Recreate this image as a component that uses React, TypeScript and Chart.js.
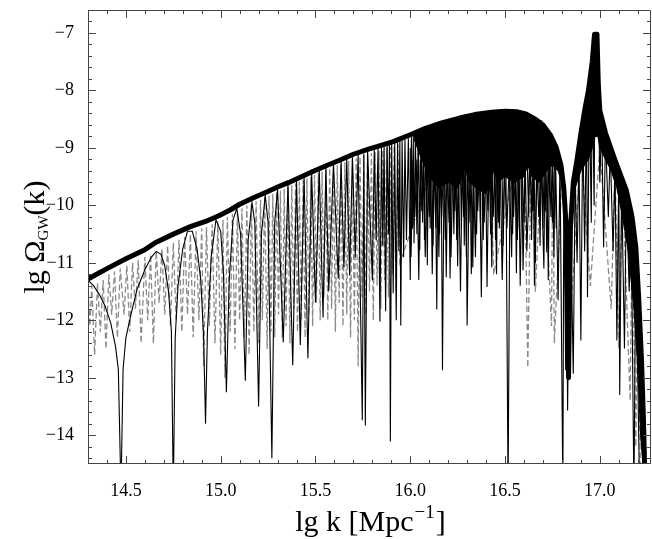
import React, { useEffect, useRef } from "react";
import { Chart, registerables } from "chart.js";
Chart.register(...registerables);

const xMin = 14.3, xMax = 17.27, yMin = -14.5, yMax = -6.6;
const xTickValues = [14.5, 15.0, 15.5, 16.0, 16.5, 17.0];
const yTickValues = [-14, -13, -12, -11, -10, -9, -8, -7];

// thick upper envelope
const envX = [14.30, 14.40, 14.50, 14.60, 14.66, 14.75, 14.84, 14.92, 14.99, 15.05, 15.10, 15.17, 15.24, 15.30, 15.36, 15.42, 15.48, 15.55, 15.63, 15.70, 15.78, 15.85, 15.91, 16.00, 16.08, 16.17, 16.26, 16.34, 16.43, 16.50, 16.56, 16.61, 16.66, 16.70, 16.74, 16.77, 16.795, 16.81, 16.825, 16.835, 16.845, 16.86, 16.88, 16.90, 16.92, 16.94, 16.96, 16.972, 16.985, 16.992, 17.00, 17.03, 17.08, 17.14, 17.17, 17.19, 17.205, 17.22, 17.23, 17.24];
const envY = [-11.28, -11.10, -10.93, -10.77, -10.64, -10.50, -10.37, -10.28, -10.18, -10.08, -9.98, -9.87, -9.77, -9.68, -9.60, -9.51, -9.42, -9.32, -9.21, -9.11, -9.02, -8.95, -8.89, -8.77, -8.66, -8.56, -8.48, -8.42, -8.38, -8.36, -8.37, -8.41, -8.50, -8.60, -8.78, -8.99, -9.30, -9.70, -10.5, -13.0, -10.4, -9.6, -9.2, -8.75, -8.35, -8.00, -7.5, -7.02, -7.02, -7.9, -8.35, -8.74, -9.21, -9.74, -10.20, -10.73, -11.6, -12.7, -13.7, -15.0];

// thin black oscillating spectrum
const thinX = [14.30, 14.33, 14.36, 14.39, 14.42, 14.445, 14.46, 14.474, 14.485, 14.50, 14.53, 14.56, 14.60, 14.635, 14.66, 14.685, 14.705, 14.725, 14.74, 14.75, 14.76, 14.775, 14.80, 14.825, 14.85, 14.875, 14.895, 14.91, 14.92, 14.93, 14.95, 14.975, 15.00, 15.015, 15.03, 15.045, 15.065, 15.085, 15.105, 15.13, 15.145, 15.165, 15.18, 15.20, 15.215, 15.235, 15.25, 15.27, 15.285, 15.30, 15.33, 15.355, 15.38, 15.40, 15.42, 15.44, 15.46, 15.48, 15.50, 15.52, 15.54, 15.555, 15.57, 15.595, 15.62, 15.635, 15.65, 15.665, 15.68, 15.695, 15.71, 15.725, 15.747, 15.755, 15.763, 15.775, 15.80, 15.81, 15.82, 15.83, 15.84, 15.848, 15.855, 15.862, 15.87, 15.878, 15.885, 15.89, 15.895, 15.902, 15.91, 15.918, 15.926, 15.933, 15.94, 15.945, 15.95, 15.957, 15.965, 15.972, 15.98, 15.99, 16.00, 16.006, 16.012, 16.016, 16.02, 16.027, 16.035, 16.042, 16.05, 16.057, 16.065, 16.07, 16.075, 16.083, 16.09, 16.097, 16.105, 16.112, 16.12, 16.13, 16.14, 16.147, 16.155, 16.162, 16.17, 16.18, 16.19, 16.20, 16.21, 16.22, 16.23, 16.24, 16.25, 16.26, 16.27, 16.278, 16.285, 16.292, 16.30, 16.315, 16.33, 16.34, 16.35, 16.36, 16.37, 16.378, 16.385, 16.395, 16.405, 16.418, 16.43, 16.44, 16.45, 16.46, 16.47, 16.48, 16.49, 16.503, 16.516, 16.528, 16.54, 16.55, 16.56, 16.568, 16.575, 16.585, 16.595, 16.61, 16.625, 16.632, 16.64, 16.65, 16.66, 16.672, 16.685, 16.692, 16.70, 16.71, 16.72, 16.735, 16.75, 16.765, 16.78, 16.79, 16.805, 16.81, 16.82, 16.825, 16.83, 16.84, 16.845, 16.86, 16.87, 16.88, 16.89, 16.90, 16.91, 16.92, 16.93, 16.935, 16.945, 16.955, 16.96, 16.97, 16.975, 16.985, 16.99, 17.00, 17.01, 17.02, 17.03, 17.045, 17.055, 17.07, 17.08, 17.09, 17.10, 17.105, 17.115, 17.13, 17.14, 17.155, 17.165, 17.18, 17.19, 17.21];
const thinY = [-11.30, -11.40, -11.55, -11.75, -12.05, -12.45, -12.85, -15.0, -12.85, -12.3, -11.85, -11.45, -11.12, -10.90, -10.80, -10.85, -11.05, -11.5, -12.2, -15.0, -12.3, -11.4, -10.75, -10.45, -10.45, -10.75, -11.3, -12.3, -13.8, -12.2, -10.9, -10.25, -10.45, -11.2, -13.25, -11.3, -10.25, -10.05, -10.5, -13.05, -10.6, -9.95, -10.3, -13.5, -10.5, -9.82, -10.3, -14.4, -10.3, -9.72, -12.38, -9.62, -12.78, -9.55, -12.43, -9.49, -12.66, -9.44, -11.69, -9.38, -11.95, -9.32, -11.49, -9.27, -11.27, -9.22, -11.08, -9.19, -11.22, -9.15, -10.9, -9.12, -13.74, -9.10, -13.83, -9.06, -11.30, -9.03, -10.6, -9.0, -12.02, -8.98, -10.7, -8.96, -11.84, -8.95, -10.5, -8.94, -14.11, -8.92, -11.53, -8.91, -12.0, -8.9, -10.8, -8.88, -12.09, -8.87, -10.9, -8.85, -10.6, -8.83, -11.30, -8.8, -10.4, -8.79, -10.66, -8.78, -10.5, -8.76, -10.78, -8.74, -10.3, -8.72, -10.6, -8.7, -11.04, -8.68, -10.4, -8.66, -10.7, -8.64, -11.81, -8.62, -10.5, -8.6, -12.87, -8.58, -11.25, -8.57, -11.27, -8.55, -10.5, -8.53, -11.06, -8.51, -10.4, -8.5, -10.7, -8.49, -12.09, -8.47, -11.08, -8.46, -10.5, -8.44, -10.3, -8.43, -10.6, -8.42, -11.42, -8.41, -11.08, -8.4, -10.6, -8.39, -10.4, -8.39, -10.7, -8.38, -15.0, -8.38, -10.5, -8.38, -11.18, -8.38, -10.4, -8.39, -11.13, -8.41, -10.2, -8.43, -10.6, -8.46, -11.0, -8.49, -10.70, -8.52, -10.4, -8.58, -10.82, -8.7, -10.3, -8.9, -11.65, -9.2, -15.0, -9.8, -12.87, -10.6, -13.57, -10.5, -10.2, -12.93, -9.4, -11.0, -9.1, -12.35, -8.6, -10.8, -8.3, -11.6, -8.0, -10.3, -7.6, -10.0, -7.1, -8.6, -7.5, -9.6, -8.5, -10.73, -8.8, -10.2, -9.0, -10.8, -9.3, -12.35, -9.45, -13.3, -9.6, -12.49, -9.8, -11.5, -10.1, -15.0, -10.8, -15.0];

// extra fine spikes hanging below the dense mass
const spikeX = [16.0, 16.004, 16.014, 16.024, 16.035, 16.045, 16.053, 16.061, 16.07, 16.079, 16.09, 16.10, 16.108, 16.116, 16.125, 16.135, 16.143, 16.151, 16.158, 16.166, 16.175, 16.185, 16.195, 16.205, 16.21, 16.215, 16.225, 16.235, 16.24, 16.245, 16.255, 16.265, 16.274, 16.282, 16.289, 16.296, 16.303, 16.31, 16.316, 16.322, 16.333, 16.344, 16.35, 16.356, 16.366, 16.375, 16.383, 16.39, 16.40, 16.41, 16.417, 16.424, 16.431, 16.438, 16.447, 16.455, 16.46, 16.465, 16.475, 16.485, 16.497, 16.51, 16.522, 16.535, 16.54, 16.545, 16.555, 16.565, 16.572, 16.58, 16.59, 16.60, 16.607, 16.615, 16.63, 16.645, 16.65, 16.655, 16.667, 16.678, 16.69, 16.705, 16.71, 16.715, 16.722, 16.728, 16.735, 16.742, 16.75, 16.758, 16.764, 16.77];
const spikeY = [-9.0, -10.9, -9.2, -10.2, -9.2, -11.3, -9.2, -10.1, -9.2, -10.9, -9.3, -10.2, -9.3, -11.2, -9.3, -10.4, -9.3, -10.9, -9.3, -10.2, -9.3, -10.6, -9.3, -10.3, -9.3, -10.9, -9.3, -10.1, -9.3, -10.6, -9.3, -11.5, -9.3, -10.2, -9.3, -10.9, -9.3, -10.3, -9.3, -11.2, -9.3, -10.9, -9.3, -10.1, -9.3, -11.6, -9.3, -10.3, -9.3, -10.1, -9.3, -10.5, -9.3, -10.2, -9.3, -11.2, -9.3, -10.3, -9.3, -11.3, -9.3, -10.4, -9.3, -10.9, -9.3, -10.2, -9.3, -10.6, -9.3, -11.4, -9.3, -10.3, -9.3, -10.8, -9.3, -10.1, -9.3, -11.4, -9.3, -10.2, -9.3, -11.1, -9.3, -10.1, -9.3, -11.3, -9.2, -10.2, -9.2, -10.9, -9.2, -10.4];

// grey dashed spectrum
const grayX = [14.30, 14.31, 14.32, 14.335, 14.35, 14.365, 14.38, 14.395, 14.41, 14.425, 14.44, 14.455, 14.47, 14.49, 14.505, 14.52, 14.535, 14.55, 14.565, 14.58, 14.60, 14.615, 14.63, 14.645, 14.66, 14.675, 14.69, 14.705, 14.72, 14.735, 14.75, 14.765, 14.78, 14.795, 14.81, 14.825, 14.84, 14.855, 14.87, 14.885, 14.90, 14.91, 14.925, 14.94, 14.955, 14.97, 14.985, 15.0, 15.012, 15.022, 15.035, 15.05, 15.062, 15.075, 15.088, 15.1, 15.112, 15.125, 15.138, 15.15, 15.162, 15.175, 15.187, 15.2, 15.21, 15.22, 15.232, 15.245, 15.255, 15.265, 15.275, 15.285, 15.295, 15.305, 15.315, 15.325, 15.335, 15.345, 15.355, 15.365, 15.375, 15.385, 15.395, 15.405, 15.415, 15.425, 15.435, 15.445, 15.455, 15.465, 15.475, 15.485, 15.495, 15.505, 15.515, 15.525, 15.535, 15.545, 15.555, 15.565, 15.575, 15.585, 15.595, 15.605, 15.615, 15.625, 15.635, 15.645, 15.655, 15.665, 15.675, 15.685, 15.695, 15.705, 15.715, 15.725, 15.735, 15.745, 15.755, 15.765, 15.775, 15.785, 15.795, 15.805, 15.815, 15.825, 15.835, 15.845, 15.855, 15.865, 15.875, 15.885, 15.895, 15.905, 15.915, 15.925, 15.935, 15.945, 16.2, 16.42, 16.44, 16.6, 16.62, 16.64, 16.66, 16.7, 16.745, 16.752, 16.76, 16.8, 16.85, 16.9, 16.95, 17.0, 17.06, 17.08, 17.1, 17.12, 17.16, 17.17, 17.19, 17.2, 17.215];
const grayY = [-11.5, -12.1, -11.4, -12.6, -11.35, -12.2, -11.3, -12.5, -11.2, -11.9, -11.15, -12.3, -11.1, -11.9, -11.05, -12.2, -11.0, -11.8, -10.95, -12.4, -10.9, -12.0, -10.85, -12.4, -10.8, -11.7, -10.75, -11.9, -10.7, -12.1, -10.65, -12.0, -10.6, -12.2, -10.55, -11.9, -10.5, -12.3, -10.45, -12.0, -10.4, -12.8, -10.38, -12.1, -10.33, -12.4, -10.28, -12.6, -10.25, -13.0, -10.2, -12.2, -10.15, -12.5, -10.1, -12.0, -10.05, -12.3, -10.0, -12.6, -9.97, -12.2, -9.93, -12.4, -9.9, -12.0, -9.86, -12.5, -9.83, -12.2, -9.8, -12.3, -9.77, -11.9, -9.74, -12.3, -9.71, -12.1, -9.68, -12.4, -9.65, -11.8, -9.62, -12.2, -9.59, -12.0, -9.56, -12.3, -9.53, -11.9, -9.5, -12.1, -9.47, -11.7, -9.44, -12.0, -9.41, -11.6, -9.38, -12.0, -9.35, -11.8, -9.33, -12.2, -9.3, -11.7, -9.28, -12.1, -9.25, -11.9, -9.23, -12.3, -9.2, -12.0, -9.18, -12.8, -9.15, -11.6, -9.13, -11.9, -9.11, -11.5, -9.09, -12.0, -9.07, -11.4, -9.05, -11.8, -9.03, -11.3, -9.0, -11.6, -8.98, -11.2, -8.96, -11.5, -8.94, -11.0, -8.6, -8.5, -11.2, -8.5, -12.82, -8.5, -11.5, -8.7, -12.1, -8.9, -12.4, -9.5, -11.7, -9.0, -11.4, -9.0, -11.8, -9.3, -12.5, -9.6, -13.4, -10.5, -14.2, -11.5, -14.8];

// dense black mass, first hump
const band1X = [16.02, 16.06, 16.10, 16.15, 16.20, 16.25, 16.29, 16.31, 16.35, 16.40, 16.44, 16.46, 16.50, 16.55, 16.60, 16.62, 16.64, 16.68, 16.72, 16.75, 16.78, 16.80];
const band1Top = [-8.75, -8.69, -8.64, -8.58, -8.54, -8.49, -8.46, -8.45, -8.42, -8.39, -8.38, -8.37, -8.36, -8.37, -8.40, -8.42, -8.45, -8.54, -8.68, -8.84, -9.1, -9.45];
const band1Bottom = [-8.85, -9.2, -9.5, -9.7, -9.6, -9.7, -9.35, -9.6, -9.7, -9.8, -9.4, -9.6, -9.5, -9.6, -9.5, -9.3, -9.5, -9.6, -9.4, -9.3, -9.4, -9.6];

// dense black mass, second (sharp) peak
const band2X = [16.86, 16.88, 16.90, 16.92, 16.94, 16.96, 16.975, 16.99, 17.00, 17.03, 17.06, 17.09, 17.12, 17.15, 17.18, 17.20, 17.215, 17.23];
const band2Top = [-9.6, -9.2, -8.75, -8.35, -8.0, -7.5, -7.0, -7.6, -8.35, -8.74, -9.03, -9.3, -9.56, -9.9, -10.5, -11.2, -12.2, -13.7];
const band2Bottom = [-9.8, -9.6, -9.4, -9.3, -9.2, -9.0, -8.8, -8.8, -9.0, -9.2, -9.4, -9.7, -10.2, -10.8, -11.8, -12.8, -14.0, -14.6];

const pts = (xs: number[], ys: number[]) => xs.map((x, i) => ({ x, y: ys[i] }));

const FONT = "'Liberation Serif', 'DejaVu Serif', serif";

const framePlugin = {
  id: "framePlugin",
  afterDatasetsDraw(chart: any) {
    const { ctx, chartArea: a, scales } = chart;
    const xs = scales.x, ys = scales.y;
    ctx.save();
    ctx.strokeStyle = "#444";
    ctx.lineWidth = 1;
    ctx.beginPath();
    ctx.rect(a.left + 0.5, a.top + 0.5, a.right - a.left - 1, a.bottom - a.top - 1);
    ctx.stroke();
    ctx.beginPath();
    for (let i = 143; i <= 172; i++) {
      const v = i / 10;
      const major = i % 5 === 0;
      const L = major ? 8 : 4;
      const px = Math.round(xs.getPixelForValue(v)) + 0.5;
      ctx.moveTo(px, a.bottom); ctx.lineTo(px, a.bottom - L);
      ctx.moveTo(px, a.top); ctx.lineTo(px, a.top + L);
    }
    for (let i = -72; i <= -34; i++) {
      const v = i / 5;
      const major = i % 5 === 0;
      const L = major ? 8 : 4;
      const py = Math.round(ys.getPixelForValue(v)) + 0.5;
      ctx.moveTo(a.left, py); ctx.lineTo(a.left + L, py);
      ctx.moveTo(a.right, py); ctx.lineTo(a.right - L, py);
    }
    ctx.stroke();
    ctx.restore();
  },
  afterDraw(chart: any) {
    const { ctx, chartArea: a } = chart;
    ctx.save();
    ctx.fillStyle = "#000";
    ctx.textBaseline = "alphabetic";
    const big = `30px ${FONT}`, small = `19px ${FONT}`;
    ctx.font = big;
    const p1 = "lg k [Mpc";
    const w1 = ctx.measureText(p1).width;
    ctx.font = small;
    const p2 = "\u22121";
    const w2 = ctx.measureText(p2).width;
    ctx.font = big;
    const p3 = "]";
    const w3 = ctx.measureText(p3).width;
    const cx = (a.left + a.right) / 2;
    const x0 = cx - (w1 + w2 + w3) / 2;
    const by = 531;
    ctx.fillText(p1, x0, by);
    ctx.font = small;
    ctx.fillText(p2, x0 + w1 + 1, by - 13);
    ctx.font = big;
    ctx.fillText(p3, x0 + w1 + w2 + 2, by);
    ctx.translate(44, (a.top + a.bottom) / 2);
    ctx.rotate(-Math.PI / 2);
    const q1 = "lg \u03A9", q2 = "GW", q3 = "(k)";
    const sub = `15px ${FONT}`;
    ctx.font = big;
    const v1 = ctx.measureText(q1).width;
    const v3 = ctx.measureText(q3).width;
    ctx.font = sub;
    const v2 = ctx.measureText(q2).width;
    const y0 = -(v1 + v2 + v3) / 2;
    ctx.font = big;
    ctx.fillText(q1, y0, 0);
    ctx.font = sub;
    ctx.fillText(q2, y0 + v1, 4);
    ctx.font = big;
    ctx.fillText(q3, y0 + v1 + v2, 0);
    ctx.restore();
  },
};

export default function App() {
  const ref = useRef<HTMLCanvasElement>(null);
  useEffect(() => {
    document.body.style.margin = "0";
    const canvas = ref.current!;
    const line = { pointRadius: 0, fill: false, tension: 0 };
    const chart = new Chart(canvas, {
      type: "line",
      data: {
        datasets: [
          { ...line, data: pts(envX, envY), borderColor: "#000", borderWidth: 5, order: 0, borderJoinStyle: "round" as const },
          { ...line, data: pts(thinX, thinY), borderColor: "#000", borderWidth: 1.1, order: 1 },
          { ...line, data: pts(spikeX, spikeY), borderColor: "#000", borderWidth: 1.1, order: 1 },
          { ...line, data: pts(band1X, band1Top), borderColor: "#000", borderWidth: 1, order: 2 },
          { ...line, data: pts(band1X, band1Bottom), borderColor: "#000", borderWidth: 1, order: 2, fill: "-1", backgroundColor: "#000" },
          { ...line, data: pts(band2X, band2Top), borderColor: "#000", borderWidth: 1, order: 2 },
          { ...line, data: pts(band2X, band2Bottom), borderColor: "#000", borderWidth: 1, order: 2, fill: "-1", backgroundColor: "#000" },
          { ...line, data: pts(grayX, grayY), borderColor: "#8a8a8a", borderWidth: 1.3, borderDash: [6, 3], order: 3 },
        ],
      },
      options: {
        animation: false,
        responsive: false,
        devicePixelRatio: 1,
        parsing: false,
        normalized: true,
        layout: { padding: { top: 10, right: 1, left: 0, bottom: 0 } },
        plugins: { legend: { display: false }, tooltip: { enabled: false }, title: { display: false } },
        scales: {
          x: {
            type: "linear",
            min: xMin,
            max: xMax,
            grid: { display: false },
            border: { display: false },
            afterBuildTicks: (s: any) => { s.ticks = xTickValues.map((v) => ({ value: v })); },
            afterFit: (s: any) => { s.height = 75; s.paddingLeft = 0; s.paddingRight = 0; },
            ticks: {
              autoSkip: false,
              maxRotation: 0,
              padding: 8,
              color: "#000",
              font: { family: FONT, size: 18 },
              callback: (v: any) => Number(v).toFixed(1),
            },
          },
          y: {
            type: "linear",
            min: yMin,
            max: yMax,
            grid: { display: false },
            border: { display: false },
            afterBuildTicks: (s: any) => { s.ticks = yTickValues.map((v) => ({ value: v })); },
            afterFit: (s: any) => { s.width = 88; s.paddingTop = 0; s.paddingBottom = 0; },
            ticks: {
              autoSkip: false,
              padding: 6,
              color: "#000",
              font: { family: FONT, size: 18 },
              callback: (v: any) => (Number(v) < 0 ? "\u2212" : "") + Math.abs(Number(v)),
            },
          },
        },
      },
      plugins: [framePlugin],
    } as any);
    return () => chart.destroy();
  }, []);
  return (
    <div style={{ position: "absolute", left: 0, top: 0, width: 652, height: 539, background: "#fff" }}>
      <canvas ref={ref} width={652} height={539} style={{ display: "block" }} />
    </div>
  );
}
